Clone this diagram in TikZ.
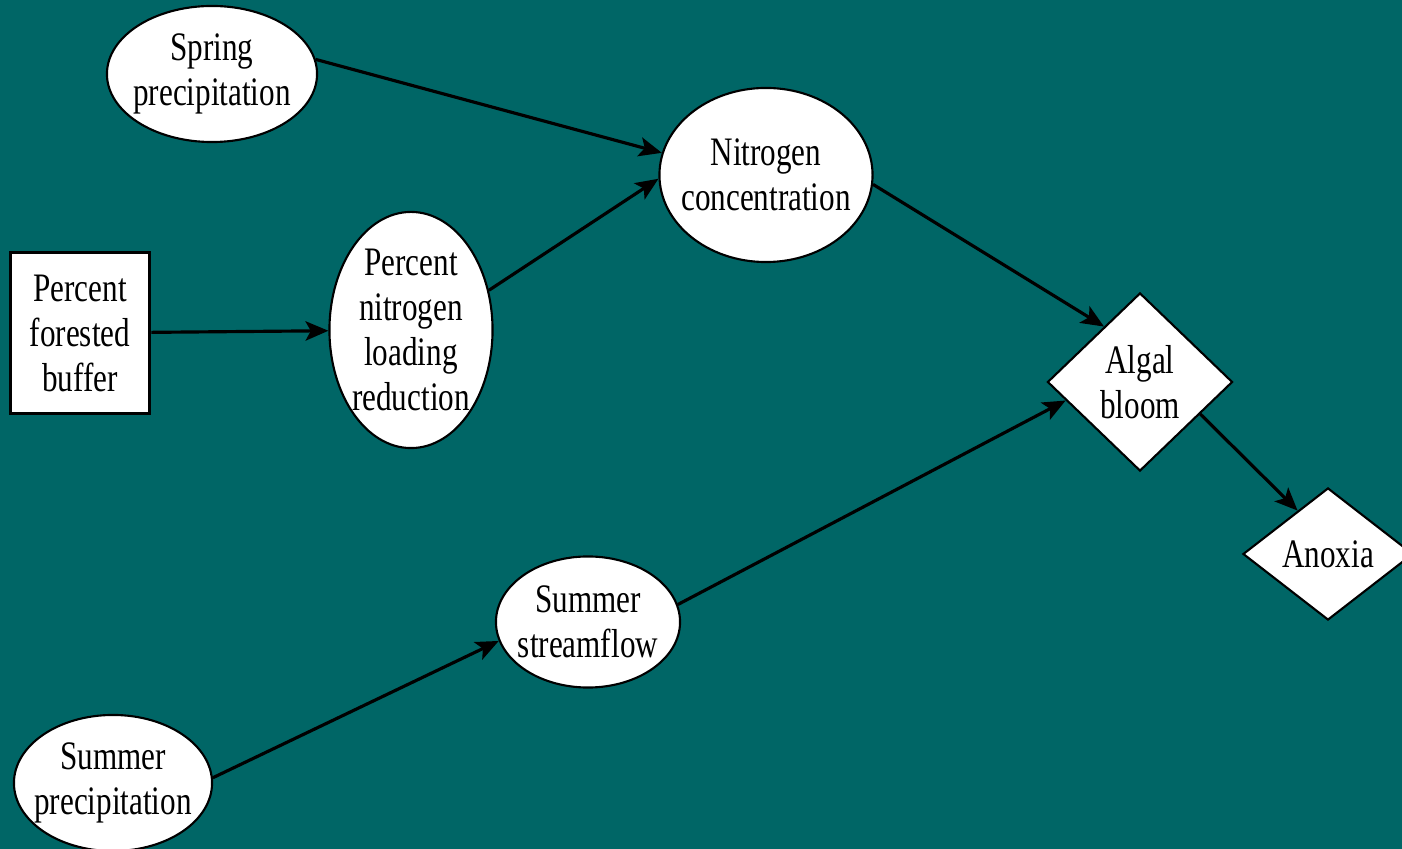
\documentclass[tikz,border=0pt]{standalone}
\usepackage{fontspec}
\setmainfont{Liberation Serif}[FakeStretch=0.77]
\usetikzlibrary{shapes.geometric, arrows.meta}
\definecolor{teal_bg}{RGB}{0,102,102}

\begin{document}
\begin{tikzpicture}[
        x=0.01cm, y=-0.01cm,
        every node/.style={font=\fontsize{11.5}{12.8}\selectfont, align=center, text=black},
        oval/.style={ellipse, draw=black, fill=white, line width=0.6pt, inner xsep=-3pt, inner ysep=-3pt},
        box/.style={rectangle, draw=black, fill=white, line width=1pt, inner sep=0pt},
        event/.style={diamond, draw=black, fill=white, line width=0.6pt, inner sep=0pt},
        edge/.style={line width=0.9pt, black, -{Stealth[length=6.5pt, width=5.5pt, inset=1.5pt]}},
    ]

        \fill[teal_bg] (0,0) rectangle (1402,849);
        \useasboundingbox (0,0) rectangle (1402,849);

        \node[oval, minimum width=2.10cm, minimum height=1.36cm] (spring) at (212,74) {Spring\\precipitation};
        \node[oval, minimum width=2.13cm, minimum height=1.74cm] (nitro) at (766,175) {Nitrogen\\concentration};
        \node[oval, minimum width=1.63cm, minimum height=2.36cm] (loading) at (411,330) {Percent\\nitrogen\\loading\\reduction};
        \node[box, minimum width=1.39cm, minimum height=1.61cm] (buffer) at (80,333) {Percent\\forested\\buffer};
        \node[event, minimum width=1.85cm, minimum height=1.78cm] (algal) at (1140,382) {Algal\\bloom};
        \node[event, minimum width=1.70cm, minimum height=1.32cm] (anoxia) at (1328,554) {Anoxia};
        \node[oval, minimum width=1.84cm, minimum height=1.31cm] (streamflow) at (588,622) {Summer\\streamflow};
        \node[oval, minimum width=1.98cm, minimum height=1.36cm] (summer) at (113,783) {Summer\\precipitation};

        \draw[edge] (spring.8) -- (nitro.168);
        \draw[edge] (loading.27) -- (nitro.182);
        \draw[edge] (buffer) -- (loading);
        \draw[edge] (nitro.355) -- (algal.123);
        \draw[edge] (streamflow.11) -- (algal.194);
        \draw[edge] (summer.3) -- (streamflow.192);
        \draw[edge] (algal.332) -- (anoxia.125);
    \end{tikzpicture}
\end{document}
